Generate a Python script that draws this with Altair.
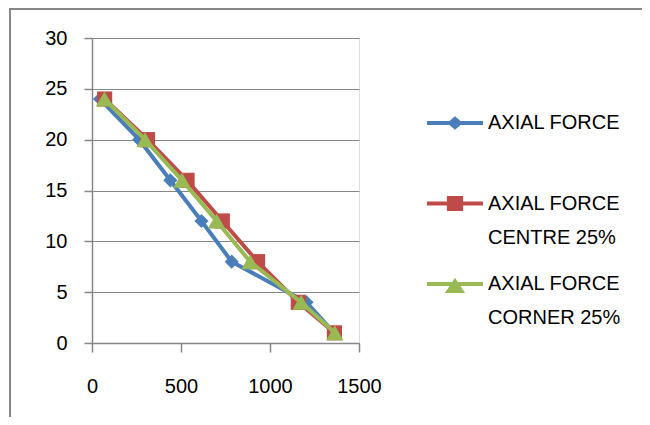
import altair as alt
import pandas as pd

# ---- data ----
levels = [24, 20, 16, 12, 8, 4, 1]
axial_force = [45, 265, 440, 615, 785, 1205, 1360]
axial_centre = [71, 312, 534, 732, 930, 1159, 1362]
axial_corner = [70, 298, 506, 700, 888, 1175, 1364]

series_names = ["AXIAL FORCE", "AXIAL FORCE CENTRE 25%", "AXIAL FORCE CORNER 25%"]
series_colors = ["#4A7EBB", "#BE4B48", "#98B954"]
marker_shapes = ["diamond", "square", "triangle-up"]
marker_sizes = [200, 230, 300]
x_ticks = [0, 500, 1000, 1500]
y_ticks = [0, 5, 10, 15, 20, 25, 30]

rows = []
for name, vals in zip(series_names, [axial_force, axial_centre, axial_corner]):
    for i, (lv, v) in enumerate(zip(levels, vals)):
        rows.append({"series": name, "force": v, "level": lv, "order": i})
df = pd.DataFrame(rows)

FONT = "Liberation Sans"
GRAY = "#878787"

x_enc = alt.X("force:Q", scale=alt.Scale(domain=[0, 1500], nice=False),
              axis=alt.Axis(values=x_ticks, grid=False, title=None, tickSize=9, format="d",
                            labelPadding=24, labelFontSize=20, labelFont=FONT,
                            labelColor="#000000", domainColor=GRAY, tickColor=GRAY,
                            domainWidth=1.5, tickWidth=1.5, labelFlush=False))
y_enc = alt.Y("level:Q", scale=alt.Scale(domain=[0, 30], nice=False),
              axis=alt.Axis(values=y_ticks, grid=True, title=None, tickSize=8, format="d",
                            labelPadding=17, labelFontSize=20, labelFont=FONT,
                            labelColor="#000000", domainColor=GRAY, tickColor=GRAY,
                            gridColor=GRAY, gridWidth=1.2,
                            domainWidth=1.5, tickWidth=1.5))

layers = []
for name, col, shp, sz in zip(series_names, series_colors, marker_shapes, marker_sizes):
    base = alt.Chart(df).transform_filter(alt.datum.series == name)
    layers.append(base.mark_line(color=col, strokeWidth=4).encode(x=x_enc, y=y_enc, order="order:Q"))
    layers.append(base.mark_point(filled=True, shape=shp, size=sz, color=col, opacity=1,
                                  strokeWidth=0).encode(x=x_enc, y=y_enc))

# legend symbols: line segment + marker (unit box, scaled by sqrt(size)/2)
legend_paths = [
    "M-1,-0.075H1V0.075H-1Z M0,-0.24L0.28,0L0,0.24L-0.28,0Z",
    "M-1,-0.075H1V0.075H-1Z M-0.29,-0.27H0.29V0.27H-0.29Z",
    "M-1,-0.075H1V0.075H-1Z M0,-0.22L0.36,0.32L-0.36,0.32Z",
]
leg = alt.Legend(title=None, orient="none", legendX=335, legendY=57, padding=0,
                 symbolSize=3136, symbolStrokeWidth=0, labelFontSize=20, labelFont=FONT,
                 labelColor="#000000", labelLimit=400, labelOffset=5, rowPadding=8.5,
                 labelExpr="datum.label == 'AXIAL FORCE' ? ['AXIAL FORCE', ''] : ['AXIAL FORCE', substring(datum.label, 12)]")
legend_layer = alt.Chart(df).transform_filter("false").mark_point(
    filled=True, opacity=1, strokeWidth=0).encode(
    x=x_enc, y=y_enc,
    fill=alt.Fill("series:N", scale=alt.Scale(domain=series_names, range=series_colors), legend=leg),
    shape=alt.Shape("series:N", scale=alt.Scale(domain=series_names, range=legend_paths), legend=leg),
)
layers.append(legend_layer)

# outer chart-area border (decoration)
border_top = alt.Chart(df).mark_rule(color=GRAY, strokeWidth=2).encode(
    x=alt.value(-82), x2=alt.value(700), y=alt.value(-29.5))
border_left = alt.Chart(df).mark_rule(color=GRAY, strokeWidth=2).encode(
    x=alt.value(-82), y=alt.value(-29.5), y2=alt.value(450))

chart = alt.layer(border_top, border_left, *layers).properties(
    width=267, height=305,
    autosize=alt.AutoSizeParams(type="none"),
    padding={"left": 84, "top": 30, "right": 283, "bottom": 74},
).configure_view(stroke=None).configure(
    style={"guide-label": {"lineHeight": 34}}
)

chart.save("out.html", embed_options={"renderer": "svg", "actions": False})
